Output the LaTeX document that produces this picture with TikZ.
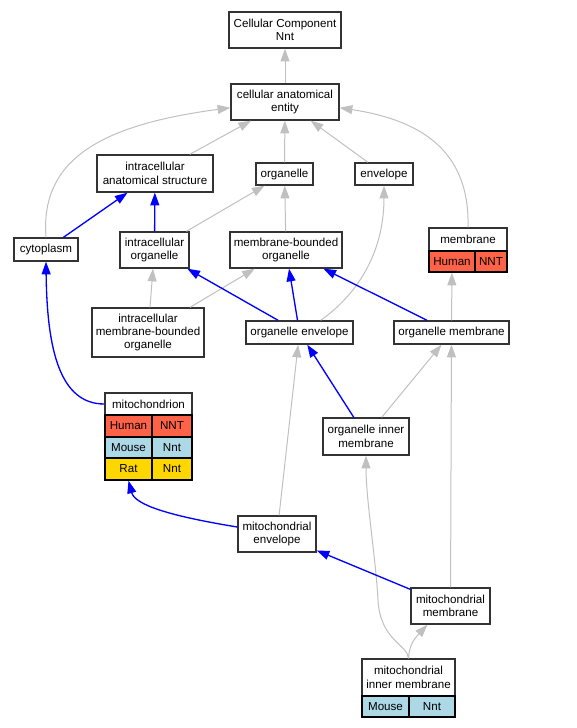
\documentclass[tikz,border=0pt]{standalone}
\usepackage{fontspec}
\setmainfont{Liberation Sans}
\usetikzlibrary{arrows.meta}

\definecolor{isagray}{HTML}{C0C0C0}
\definecolor{partblue}{HTML}{0000FF}
\definecolor{human}{HTML}{FF6347}
\definecolor{mouse}{HTML}{ADD8E6}
\definecolor{rat}{HTML}{FFD700}

\begin{document}
\begin{tikzpicture}[x=0.75pt, y=-0.75pt,
	boxsize/.style 2 args={minimum width=#1*0.75pt, minimum height=#2*0.75pt},
	term/.style={draw=black!80, line width=1pt, fill=white, align=center, inner sep=0pt,
		font=\fontsize{8.7}{10}\selectfont},
	cell/.style={term, draw=black},
	isa/.style={color=isagray, line width=0.75pt, -{Triangle[length=9.5pt, width=6.7pt]}},
	partof/.style={color=partblue, line width=1pt, -{Triangle[length=9.5pt, width=6.7pt]}}]

% fix the page size
	\useasboundingbox (0,0) rectangle (576,728);

% draw terms
	\node[term, boxsize={112}{36}] (cc) at (285,30) {Cellular Component\\Nnt};
	\node[term, boxsize={108}{36}] (cae) at (285,102) {cellular anatomical\\entity};
	\node[term, boxsize={116}{37}] (ias) at (155,173.5) {intracellular\\anatomical structure};
	\node[term, boxsize={57}{22}] (org) at (284.5,174) {organelle};
	\node[term, boxsize={58}{22}] (env) at (384,174) {envelope};
	\node[term, boxsize={64}{23}] (cyto) at (46,249.5) {cytoplasm};
	\node[term, boxsize={69}{36}] (io) at (154.5,250) {intracellular\\organelle};
	\node[term, boxsize={112}{36}] (mbo) at (286,250) {membrane-bounded\\organelle};
	\node[term, boxsize={112}{49}] (imbo) at (148,332.5) {intracellular\\membrane-bounded\\organelle};
	\node[term, boxsize={107}{23}] (oenv) at (299.5,332.5) {organelle envelope};
	\node[term, boxsize={115}{23}] (omem) at (451.5,332.5) {organelle membrane};
	\node[term, boxsize={86}{37}] (oim) at (366,436.5) {organelle inner\\membrane};
	\node[term, boxsize={78}{36}] (menv) at (277,534) {mitochondrial\\envelope};
	\node[term, boxsize={79}{36}] (mmem) at (450.5,606) {mitochondrial\\membrane};

% terms with gene tables
	\node[term, boxsize={78}{23}] (mem) at (468,239.5) {membrane};
	\node[cell, fill=human, boxsize={46}{21}] (memhuman) at (452,261.5) {Human};
	\node[cell, fill=human, boxsize={32}{21}] (memnnt) at (491,261.5) {NNT};

	\node[term, boxsize={87}{22}] (mito) at (148.5,404) {mitochondrion};
	\node[cell, fill=human, boxsize={47}{22}] (mitohuman) at (128.5,426) {Human};
	\node[cell, fill=human, boxsize={40}{22}] (mitonnt) at (172,426) {NNT};
	\node[cell, fill=mouse, boxsize={47}{21}] (mitomouse) at (128.5,447.5) {Mouse};
	\node[cell, fill=mouse, boxsize={40}{21}] (mitomnt) at (172,447.5) {Nnt};
	\node[cell, fill=rat, boxsize={47}{22}] (mitorat) at (128.5,469) {Rat};
	\node[cell, fill=rat, boxsize={40}{22}] (mitornt) at (172,469) {Nnt};

	\node[term, boxsize={93}{37}] (mim) at (408.5,677.5) {mitochondrial\\inner membrane};
	\node[cell, fill=mouse, boxsize={47}{21}] (mimmouse) at (385.5,706.5) {Mouse};
	\node[cell, fill=mouse, boxsize={46}{21}] (mimnnt) at (432,706.5) {Nnt};

% is_a edges
	\draw[isa] (cae) -- (cc);
	\draw[isa] (ias) -- (cae);
	\draw[isa] (org) -- (cae);
	\draw[isa] (env) -- (cae);
	\draw[isa] (cyto.north) .. controls (40,160) and (100,125) .. (cae.186);
	\draw[isa] (mem.north) .. controls (470,150) and (420,120) .. (cae.-6);
	\draw[isa] (io) -- (org);
	\draw[isa] (mbo) -- (org);
	\draw[isa] (imbo) -- (io);
	\draw[isa] (imbo) -- (mbo);
	\draw[isa] (oenv.30) .. controls (350,300) and (384,260) .. (env.south);
	\draw[isa] (omem) -- (memhuman);
	\draw[isa] (menv) -- (oenv);
	\draw[isa] (oim) -- (omem);
	\draw[isa] (mmem) -- (omem);
	\draw[isa] (mim.north) .. controls (408,645) and (380,640) .. (378,600)
		.. controls (376,560) and (366,500) .. (oim.south);
	\draw[isa] (mim.north) .. controls (409,645) and (415,638) .. (mmem.219);

% part_of edges
	\draw[partof] (cyto) -- (ias);
	\draw[partof] (io) -- (ias);
	\draw[partof] (mito.west) .. controls (60,404) and (47,350) .. (cyto.south);
	\draw[partof] (oenv) -- (io);
	\draw[partof] (oenv) -- (mbo);
	\draw[partof] (omem) -- (mbo);
	\draw[partof] (oim) -- (oenv);
	\draw[partof] (menv.170) .. controls (170,516) and (135,505) .. (mitorat.south);
	\draw[partof] (mmem) -- (menv);

\end{tikzpicture}
\end{document}
